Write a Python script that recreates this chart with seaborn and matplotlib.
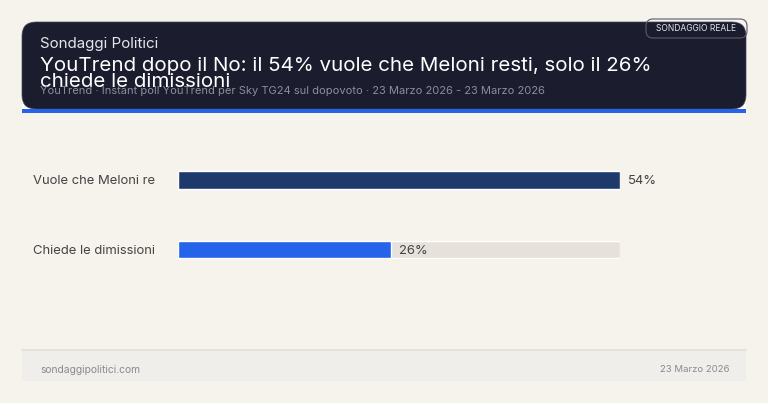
import pandas as pd
import seaborn as sns
import matplotlib.pyplot as plt
from matplotlib.patches import FancyBboxPatch, Rectangle
from matplotlib.transforms import blended_transform_factory

# ---------------------------------------------------------
# Daten
# ---------------------------------------------------------
categories = ["Vuole che Meloni re", "Chiede le dimissioni"]
values = [54, 26]
bar_colors = ["#1E3A6C", "#2563EB"]

title = "YouTrend dopo il No: il 54% vuole che Meloni resti, solo il 26%\nchiede le dimissioni"
kicker = "Sondaggi Politici"
subtitle = "YouTrend · Instant poll YouTrend per Sky TG24 sul dopovoto · 23 Marzo 2026 - 23 Marzo 2026"
badge = "SONDAGGIO REALE"
footer_left = "sondaggipolitici.com"
footer_right = "23 Marzo 2026"

df = pd.DataFrame({"cat": categories, "val": values})
df["track"] = max(values)

BG = "#F6F2EC"
W, H = 768, 403

sns.set_theme(style="white")
plt.rcParams["font.family"] = ["Inter", "DejaVu Sans"]

fig = plt.figure(figsize=(W / 100, H / 100), dpi=100, facecolor=BG)

# Hintergrund-Achse in Pixelkoordinaten
bg = fig.add_axes([0, 0, 1, 1])
bg.set_xlim(0, W)
bg.set_ylim(H, 0)
bg.axis("off")
bg.set_facecolor(BG)

# Header
bg.add_patch(Rectangle((22, 60), 724, 49, facecolor="white", edgecolor="none"))
bg.add_patch(FancyBboxPatch((22 + 14, 22 + 14), 724 - 28, 87 - 28,
                            boxstyle="round,pad=14", facecolor="#1B1C2E",
                            edgecolor="#44455A", linewidth=0.5))
bg.add_patch(Rectangle((22, 109), 724, 3.5, facecolor="#2563EB", edgecolor="none"))

bg.text(40, 44, kicker, color="#E6E6EC", fontsize=10.9, va="center", ha="left")
bg.text(40, 74, title, color="white", fontsize=14.8, va="center", ha="left",
        linespacing=0.9)
bg.text(40, 90.5, subtitle, color="#8C8E9C", fontsize=8.0, va="center", ha="left")

# Badge
bg.add_patch(FancyBboxPatch((645 + 8, 20 + 6), 103 - 16, 17 - 12,
                            boxstyle="round,pad=7", facecolor="none",
                            edgecolor="#5A5A66", linewidth=0.8))
bg.text(696, 28.5, badge, color="#E4E4EA", fontsize=6.1, va="center", ha="center")

# Footer
bg.add_patch(Rectangle((22, 350), 724, 31, facecolor="#F0EEEA", edgecolor="none"))
bg.plot([22, 746], [350, 350], color="#E3DDD4", linewidth=1.2)
bg.text(40, 370, footer_left, color="#8A8A8A", fontsize=7.4, va="center", ha="left")
bg.text(729, 370, footer_right, color="#8A8A8A", fontsize=6.9, va="center", ha="right")

# ---------------------------------------------------------
# Balken
# ---------------------------------------------------------
left, right = 178, 620
top, bottom = 145.25, 284.25
ax = fig.add_axes([left / W, 1 - bottom / H, (right - left) / W, (bottom - top) / H])
ax.set_facecolor("none")

sns.barplot(data=df, x="track", y="cat", orient="h", color="#E6E1DB",
            width=0.245, ax=ax, saturation=1)
sns.barplot(data=df, x="val", y="cat", orient="h", hue="cat",
            palette=bar_colors, width=0.245, ax=ax, saturation=1, legend=False)

ax.set_xlim(0, max(values))
ax.set_ylim(1.5, -0.5)
ax.axis("off")

lab_tr = blended_transform_factory(fig.transFigure, ax.transData)
for i, (c, v) in enumerate(zip(categories, values)):
    ax.text(33 / W, i, c, transform=lab_tr, color="#444444", fontsize=9.4,
            va="center_baseline", ha="left")
    ax.text(v + 0.95, i, f"{v}%", color="#444444", fontsize=9.4,
            va="center_baseline", ha="left")

fig.savefig("out.png", dpi=100, facecolor=BG)
